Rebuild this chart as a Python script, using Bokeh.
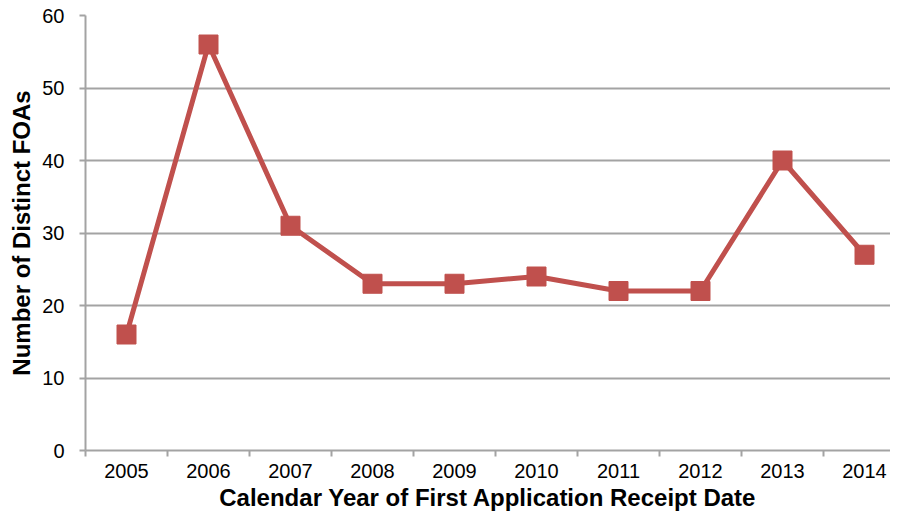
from bokeh.plotting import figure
from bokeh.models import Range1d, FixedTicker, ColumnDataSource
from bokeh.embed import file_html
from bokeh.resources import INLINE

years = ["2005", "2006", "2007", "2008", "2009", "2010", "2011", "2012", "2013", "2014"]
foas = [16, 56, 31, 23, 23, 24, 22, 22, 40, 27]
y_ticks = [0, 10, 20, 30, 40, 50, 60]

xs = list(range(len(years)))
src = ColumnDataSource(dict(x=xs, y=foas))

GRID = "#a3a3a3"
RED = "#C0504D"
FONT = "Liberation Sans"

p = figure(width=890, height=513, output_backend="svg", toolbar_location=None,
           x_range=Range1d(-0.5, 9.317), y_range=Range1d(0, 60),
           min_border_left=85, min_border_right=0, min_border_top=15, min_border_bottom=0)
p.outline_line_color = None
p.background_fill_color = "white"
p.border_fill_color = "white"

p.line("x", "y", source=src, line_color=RED, line_width=5)
p.scatter("x", "y", source=src, marker="square", size=19, fill_color=RED, line_color=RED)

# x axis
p.xaxis.ticker = FixedTicker(ticks=xs, minor_ticks=[i - 0.5 for i in range(len(years) + 1)])
p.xaxis.major_label_overrides = {i: y for i, y in enumerate(years)}
p.xaxis.major_tick_out = 0
p.xaxis.major_tick_in = 0
p.xaxis.minor_tick_out = 6
p.xaxis.minor_tick_in = 0
p.xaxis.minor_tick_line_color = GRID
p.xaxis.minor_tick_line_width = 2
p.xaxis.axis_line_color = GRID
p.xaxis.axis_line_width = 2
p.xaxis.major_label_text_font = FONT
p.xaxis.major_label_text_font_size = "20px"
p.xaxis.major_label_text_color = "black"
p.xaxis.major_label_standoff = 7
p.xaxis.axis_label = "Calendar Year of First Application Receipt Date"
p.xaxis.axis_label_text_font = FONT
p.xaxis.axis_label_text_font_size = "24px"
p.xaxis.axis_label_text_font_style = "bold"
p.xaxis.axis_label_text_color = "black"
p.xaxis.axis_label_standoff = 3

# y axis
p.yaxis.ticker = FixedTicker(ticks=y_ticks)
p.yaxis.minor_tick_line_color = None
p.yaxis.major_tick_out = 6
p.yaxis.major_tick_in = 0
p.yaxis.major_tick_line_color = GRID
p.yaxis.major_tick_line_width = 2
p.yaxis.axis_line_color = GRID
p.yaxis.axis_line_width = 2
p.yaxis.major_label_text_font = FONT
p.yaxis.major_label_text_font_size = "20px"
p.yaxis.major_label_text_color = "black"
p.yaxis.major_label_standoff = 15
p.yaxis.axis_label = "Number of Distinct FOAs"
p.yaxis.axis_label_text_font = FONT
p.yaxis.axis_label_text_font_size = "24px"
p.yaxis.axis_label_text_font_style = "bold"
p.yaxis.axis_label_text_color = "black"
p.yaxis.axis_label_standoff = 4

p.xgrid.grid_line_color = None
p.ygrid.grid_line_color = GRID
p.ygrid.grid_line_width = 2

open("out.html", "w").write(file_html(p, INLINE))
